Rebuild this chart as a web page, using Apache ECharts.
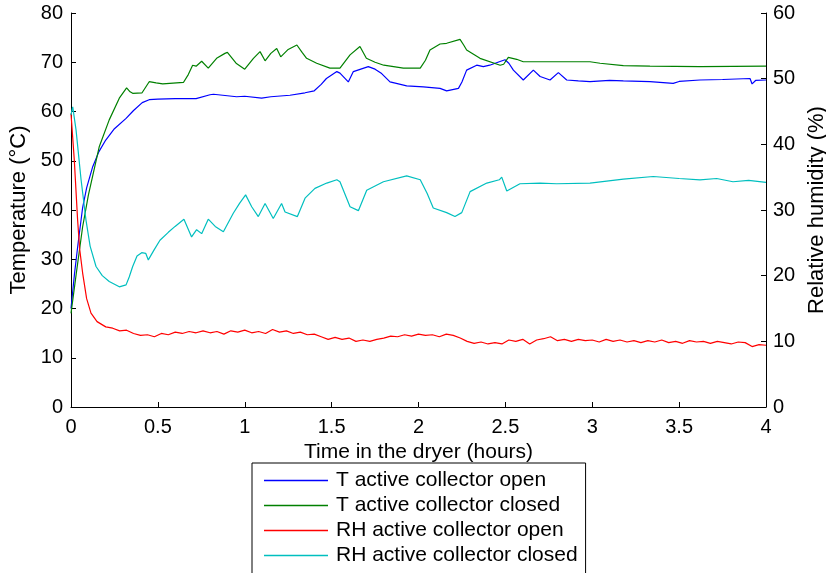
<!DOCTYPE html>
<html>
<head>
<meta charset="utf-8">
<script src="https://cdn.jsdelivr.net/npm/echarts@6/dist/echarts.min.js"></script>
<style>html,body{margin:0;padding:0;background:#fff;}#c{width:826px;height:573px;}</style>
</head>
<body>
<div id="c"></div>
<script>
// Temperature, active collector open (°C)
const tOpenTime = [0,0.02,0.04,0.067,0.09,0.125,0.16,0.2,0.25,0.317,0.36,0.41,0.45,0.5,0.6,0.72,0.8,0.82,0.9,0.953,1.0,1.097,1.15,1.26,1.347,1.40,1.44,1.47,1.53,1.548,1.596,1.625,1.711,1.75,1.788,1.836,1.932,2.028,2.124,2.162,2.23,2.25,2.277,2.335,2.373,2.41,2.465,2.498,2.52,2.546,2.603,2.661,2.70,2.757,2.805,2.853,2.92,2.987,3.1,3.179,3.332,3.466,3.5,3.62,3.75,3.908,3.92,3.94,4.0];
const tOpenVals = [20,27,33,40.5,44.5,48.8,51.8,54.2,56.5,58.6,60.2,61.8,62.4,62.5,62.6,62.6,63.4,63.5,63.2,63.0,63.1,62.7,63.0,63.3,63.8,64.2,65.5,66.7,68.1,67.8,66.0,68.1,69.1,68.6,67.7,66.0,65.2,65.0,64.7,64.2,64.7,66.0,68.4,69.4,69.1,69.4,70.1,70.5,69.8,68.4,66.4,68.4,67.1,66.4,67.9,66.4,66.2,66.05,66.3,66.2,66.05,65.7,66.1,66.4,66.5,66.7,65.6,66.3,66.4];

// Temperature, active collector closed (°C)
const tClosedTime = [0,0.03,0.067,0.1,0.163,0.22,0.278,0.32,0.34,0.355,0.409,0.45,0.49,0.528,0.647,0.675,0.70,0.72,0.752,0.79,0.838,0.886,0.9,0.95,1.0,1.05,1.088,1.117,1.15,1.184,1.207,1.25,1.30,1.33,1.356,1.414,1.49,1.548,1.606,1.663,1.70,1.75,1.80,1.913,2.01,2.04,2.066,2.124,2.162,2.239,2.26,2.277,2.354,2.47,2.49,2.517,2.565,2.603,2.8,2.987,3.045,3.179,3.332,3.62,4.0];
const tClosedVals = [19,27,36.6,43,52.9,58.3,62.7,64.8,64.0,63.7,63.8,66.05,65.8,65.6,65.9,67.5,69.4,69.2,70.2,68.8,70.8,71.8,72.0,69.8,68.6,70.8,72.15,70.3,71.8,72.8,71.1,72.6,73.5,72.0,70.8,69.8,68.8,68.8,71.5,73.2,70.8,70.0,69.4,68.8,68.8,70.4,72.5,73.7,73.85,74.65,73.5,72.5,70.8,69.4,69.6,71.0,70.6,70.1,70.1,70.1,69.8,69.3,69.2,69.1,69.2];

// Relative humidity, active collector open (%)
const rhOpenTime = [0,0.019,0.038,0.05,0.067,0.09,0.115,0.15,0.20,0.24,0.28,0.32,0.36,0.40,0.44,0.48,0.52,0.56,0.60,0.64,0.68,0.72,0.76,0.80,0.84,0.88,0.92,0.96,1.00,1.04,1.08,1.12,1.16,1.20,1.24,1.28,1.32,1.36,1.40,1.44,1.48,1.52,1.56,1.60,1.64,1.68,1.72,1.76,1.80,1.84,1.88,1.92,1.96,2.00,2.04,2.08,2.12,2.16,2.20,2.24,2.28,2.32,2.36,2.40,2.44,2.48,2.52,2.56,2.60,2.64,2.68,2.72,2.76,2.80,2.84,2.88,2.92,2.96,3.00,3.04,3.08,3.12,3.16,3.20,3.24,3.28,3.32,3.36,3.40,3.44,3.48,3.52,3.56,3.60,3.64,3.68,3.72,3.76,3.80,3.84,3.88,3.92,3.96,4.00];
const rhOpenVals = [44.7,37.6,28.5,24,20.4,16.5,14.3,13,12.2,12.0,11.6,11.7,11.2,10.9,11.0,10.7,11.2,11.0,11.4,11.2,11.5,11.3,11.6,11.3,11.5,11.1,11.6,11.4,11.7,11.3,11.5,11.2,11.8,11.4,11.6,11.2,11.4,11.0,11.1,10.7,10.3,10.6,10.3,10.5,10.0,10.2,10.0,10.3,10.5,10.8,10.7,11.0,10.8,11.1,10.9,11.0,10.7,11.1,10.9,10.5,10.0,9.7,9.9,9.6,9.8,9.6,10.2,10.0,10.3,9.6,10.2,10.4,10.7,10.1,10.3,10.0,10.3,10.1,10.2,9.9,10.3,10.0,10.2,9.9,10.1,9.8,10.1,9.9,10.2,9.8,10.0,9.7,10.1,9.9,10.0,9.7,10.0,9.8,9.6,9.9,9.8,9.2,9.5,9.4];

// Relative humidity, active collector closed (%)
const rhClosedTime = [0,0.01,0.029,0.058,0.086,0.11,0.144,0.18,0.22,0.278,0.317,0.335,0.355,0.38,0.407,0.43,0.445,0.48,0.512,0.56,0.599,0.65,0.694,0.723,0.752,0.79,0.83,0.877,0.934,0.97,1.005,1.04,1.078,1.117,1.164,1.212,1.232,1.303,1.347,1.404,1.472,1.53,1.548,1.606,1.654,1.702,1.798,1.932,2.01,2.05,2.085,2.162,2.21,2.249,2.297,2.393,2.465,2.479,2.508,2.584,2.7,2.795,2.987,3.179,3.351,3.5,3.62,3.716,3.81,3.9,4.0];
const rhClosedVals = [44.5,45.7,42.2,34.6,28.5,24.5,21.4,20.0,19.1,18.3,18.6,19.8,21.4,23.0,23.5,23.4,22.4,24.0,25.4,26.6,27.5,28.6,25.9,27.0,26.4,28.6,27.5,26.7,29.5,31.0,32.3,30.5,29.0,31.0,28.7,31.0,29.7,29.0,31.8,33.3,34.1,34.6,34.3,30.5,29.9,33.0,34.3,35.2,34.6,32.5,30.3,29.6,29.0,29.6,32.8,34.1,34.6,35.0,32.9,34.0,34.1,34.0,34.1,34.7,35.1,34.8,34.6,34.8,34.3,34.5,34.2];

const seriesNames = ['T active collector open','T active collector closed','RH active collector open','RH active collector closed'];
const seriesColors = ['#0000ff','#008000','#ff0000','#00bfbf'];

function pairs(t, v){ return t.map((x,i)=>[x, v[i]]); }

const FONT = "'Liberation Sans', Arial, Helvetica, sans-serif";
const axisCommon = {
  axisLine:{show:true, lineStyle:{color:'#000', width:1}},
  axisTick:{show:true, inside:true, length:5, lineStyle:{color:'#000'}},
  axisLabel:{color:'#000', fontSize:20, fontFamily:FONT},
  splitLine:{show:false},
  nameTextStyle:{color:'#000', fontSize:21, fontFamily:FONT}
};

const chart = echarts.init(document.getElementById('c'), null, {renderer:'canvas'});
chart.setOption({
  animation:false,
  backgroundColor:'#fff',
  grid:{left:71, right:60, top:13, bottom:166, containLabel:false, outerBoundsMode:'none'},
  xAxis:Object.assign({}, axisCommon, {
    type:'value', min:0, max:4, interval:0.5,
    name:'Time in the dryer (hours)', nameLocation:'middle', nameGap:34,
    axisLabel:Object.assign({}, axisCommon.axisLabel, {margin:10})
  }),
  yAxis:[
    Object.assign({}, axisCommon, {
      type:'value', min:0, max:80, interval:10, position:'left',
      name:'Temperature (°C)', nameLocation:'middle', nameGap:38, nameRotate:90,
      nameTextStyle:{color:'#000', fontSize:22, fontFamily:FONT},
      axisLabel:Object.assign({}, axisCommon.axisLabel, {margin:8})
    }),
    Object.assign({}, axisCommon, {
      type:'value', min:0, max:60, interval:10, position:'right',
      name:'Relative humidity (%)', nameLocation:'middle', nameGap:38, nameRotate:90,
      nameTextStyle:{color:'#000', fontSize:22, fontFamily:FONT},
      axisLabel:Object.assign({}, axisCommon.axisLabel, {margin:7})
    })
  ],
  legend:{
    orient:'vertical', left:252, top:463, height:300,
    data:seriesNames,
    icon:'rect', itemWidth:64, itemHeight:1.5, itemGap:4,
    padding:[7,8,30,12],
    borderColor:'#000', borderWidth:1, backgroundColor:'#fff',
    textStyle:{color:'#000', fontSize:21, fontFamily:FONT, lineHeight:21, padding:[0,0,0,3]}
  },
  series:[
    {name:seriesNames[0], type:'line', yAxisIndex:0, data:pairs(tOpenTime,tOpenVals)},
    {name:seriesNames[1], type:'line', yAxisIndex:0, data:pairs(tClosedTime,tClosedVals)},
    {name:seriesNames[2], type:'line', yAxisIndex:1, data:pairs(rhOpenTime,rhOpenVals)},
    {name:seriesNames[3], type:'line', yAxisIndex:1, data:pairs(rhClosedTime,rhClosedVals)}
  ].map((s,i)=>Object.assign(s,{showSymbol:false, symbol:'none', color:seriesColors[i], lineStyle:{width:1.2, color:seriesColors[i]}}))
});
</script>
</body>
</html>
